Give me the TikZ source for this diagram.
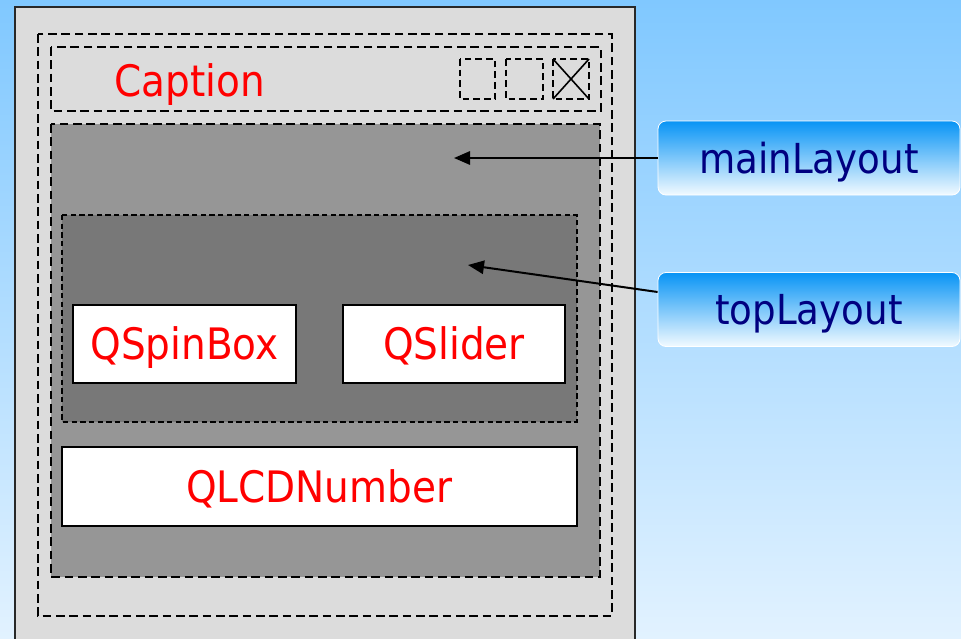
\documentclass[tikz,border=0pt]{standalone}
\usepackage{fontspec}
\setmainfont{DejaVu Sans}[FakeStretch=0.9]
\usetikzlibrary{arrows.meta}
\definecolor{bgtop}{RGB}{128,200,255}
\definecolor{bgbot}{RGB}{226,242,255}
\definecolor{winfill}{RGB}{220,220,220}
\definecolor{mainfill}{RGB}{150,150,150}
\definecolor{topfill}{RGB}{120,120,120}
\definecolor{lblue}{RGB}{8,148,245}
\definecolor{lwhite}{RGB}{242,250,255}
\definecolor{navy}{RGB}{0,0,128}
\definecolor{winedge}{RGB}{40,40,40}
\tikzset{
  winbox/.style={draw=winedge, fill=winfill, line width=1.1pt},
  dashbox/.style={draw=black, line width=2pt, dash pattern=on 6.5pt off 3.5pt},
  thindash/.style={draw=black, line width=1pt, dash pattern=on 4pt off 2.5pt},
  btnbox/.style={draw=black, line width=1.6pt, dash pattern=on 5pt off 3pt},
  redtext/.style={text=red, font=\fontsize{32.5}{38}\selectfont, inner sep=0pt,
    text height=23.7pt, text depth=0pt},
  widget/.style={redtext, draw=black, fill=white, line width=1.3pt,
    minimum height=58.5pt},
  lbl/.style={rounded corners=6pt, top color=lblue, bottom color=lwhite,
    draw=white, line width=0.6pt, text=navy,
    font=\fontsize{31}{36}\selectfont, inner sep=0pt,
    text height=22.6pt, text depth=0pt,
    minimum width=226.5pt, minimum height=55.5pt},
  ptr/.style={draw=black, line width=1.5pt, -{Triangle[length=12pt,width=10pt]}}
}
\begin{document}
\begin{tikzpicture}[x=0.75pt,y=-0.75pt]
  % background
  \path[use as bounding box, top color=bgtop, bottom color=bgbot] (0,0) rectangle (961,639);
  \begin{scope}
    \clip (0,0) rectangle (961,639);
    % window
    \path[winbox] (15,7) rectangle (635,660);
  \end{scope}
  % outer dashed (window content)
  \path[dashbox] (38,34) rectangle (612,616);
  % caption bar
  \path[dashbox] (51,47) rectangle (601,111);
  \node[redtext] (caption) at (189.5,80.5) {Caption};
  \path[btnbox] (460,59) rectangle (495,99);
  \path[btnbox] (506,59) rectangle (543,99);
  \path[btnbox] (553,59) rectangle (589,99);
  \draw[line width=1.2pt] (553,59) -- (589,99) (589,59) -- (553,99);
  % main layout
  \path[fill=mainfill, dashbox] (51,124) rectangle (600,577);
  % top layout
  \path[fill=topfill, thindash] (62,215) rectangle (577,422);
  % widgets
  \node[widget, minimum width=167.25pt] (spin) at (184.5,344) {QSpinBox};
  \node[widget, minimum width=166.5pt] (slider) at (454,344) {QSlider};
  \node[widget, minimum width=386pt, minimum height=59.25pt] (lcd) at (319.3,486.5) {QLCDNumber};
  % labels
  \node[lbl] (mainL) at (809,158) {mainLayout};
  \node[lbl] (topL) at (809,309.5) {topLayout};
  \coordinate (mainpt) at (454,158);
  \coordinate (toppt) at (468,265);
  \draw[ptr] (mainL.west) -- (mainpt);
  \draw[ptr] (mainL.west |- 0,292) -- (toppt);
\end{tikzpicture}
\end{document}
